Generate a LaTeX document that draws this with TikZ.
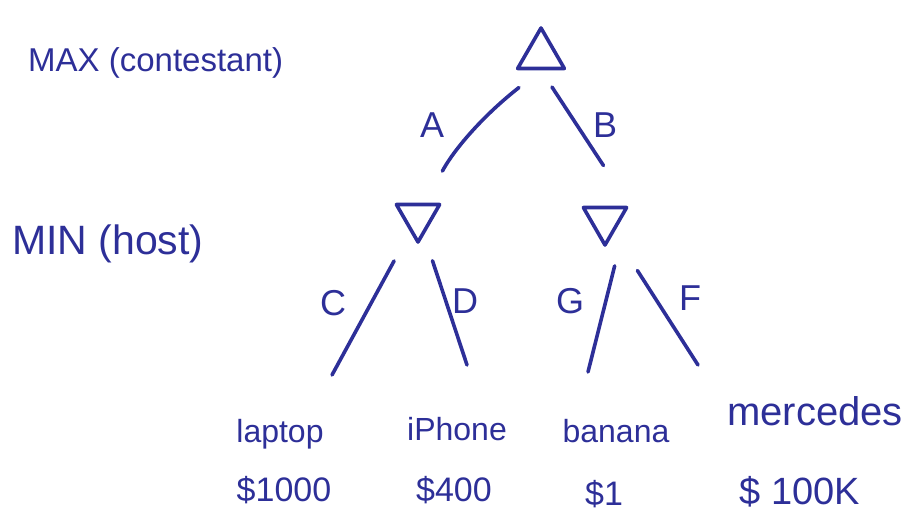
\documentclass[tikz,border=0pt]{standalone}
\usepackage{fontspec}
\setmainfont{Liberation Sans}
\usetikzlibrary{shapes.geometric}
\definecolor{ink}{HTML}{2D2F98}
\tikzset{
  pen/.style={draw=ink, line width=3.6pt, line cap=round, line join=round},
  maxnode/.style={pen, regular polygon, regular polygon sides=3, minimum size=54pt, inner sep=0pt},
  minnode/.style={pen, regular polygon, regular polygon sides=3, shape border rotate=180, minimum size=50pt, inner sep=0pt},
  edge/.style={pen},
  lbl/.style={text=ink, anchor=base, inner sep=0pt, font=\fontsize{36}{40}\selectfont},
  role/.style={text=ink, anchor=base west, inner sep=0pt},
  leaf/.style={text=ink, anchor=base, inner sep=0pt, font=\fontsize{32}{36}\selectfont},
  val/.style={text=ink, anchor=base, inner sep=0pt, font=\fontsize{34}{38}\selectfont}
}
\begin{document}
\begin{tikzpicture}[x=1pt,y=-1pt]
\useasboundingbox (0,0) rectangle (912,516);
% role labels
\node[role, font=\fontsize{33}{38}\selectfont] (maxlabel) at (28,72) {MAX (contestant)};
\node[role, font=\fontsize{41}{46}\selectfont] (minlabel) at (12,254) {MIN (host)};
% tree nodes
\node[maxnode] (max) at (541,55) {};
\node[minnode] (minL) at (418,217) {};
\node[minnode] (minR) at (605,220) {};
% leaves
\node[leaf] (laptop) at (280,442) {laptop};
\node[leaf] (iphone) at (457,440) {iPhone};
\node[leaf] (banana) at (616,442) {banana};
\node[leaf, font=\fontsize{40}{44}\selectfont] (mercedes) at (815,425) {mercedes};
\node[val] (v1) at (284,501) {\$1000};
\node[val] (v2) at (454,501) {\$400};
\node[val] (v3) at (604,505) {\$1};
\node[val, font=\fontsize{38}{44}\selectfont] (v4) at (800,504) {\$ 100K};
% free ends
\coordinate (cEnd) at (332,375);
\coordinate (dEnd) at (467,365);
\coordinate (gEnd) at (588,372);
\coordinate (fEnd) at (698,365);
% connectors
\draw[edge, shorten <=28pt, shorten >=52pt] (max.south) to[bend right=12] (minL.center);
\draw[edge, shorten <=20pt, shorten >=48pt] (max.south) to (minR.corner 2);
\draw[edge, shorten <=50pt] (minL.center) to (cEnd);
\draw[edge, shorten <=46pt] (minL.center) to (dEnd);
\draw[edge, shorten <=62pt] (minR.corner 2) to (gEnd);
\draw[edge, shorten <=60pt] (minR.center) to (fEnd);
% edge labels
\node[lbl] (la) at (432,137) {A};
\node[lbl] (lb) at (605,137) {B};
\node[lbl] (lc) at (333,315) {C};
\node[lbl] (ld) at (465,313) {D};
\node[lbl] (lg) at (570,313) {G};
\node[lbl] (lf) at (690,310) {F};
\end{tikzpicture}
\end{document}
